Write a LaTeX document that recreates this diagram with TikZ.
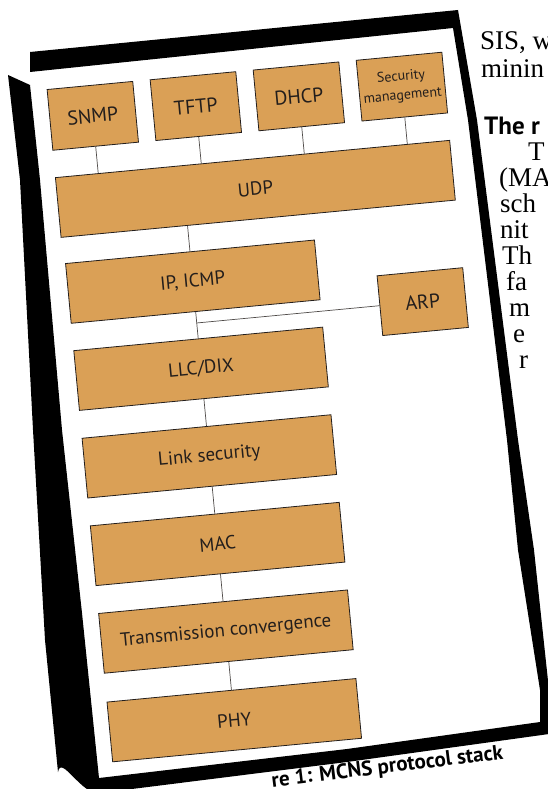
\documentclass[tikz,border=0pt]{standalone}
\usepackage{fontspec}
\setmainfont{Liberation Serif}
\newfontfamily\boxfont{PT Sans}
\usetikzlibrary{calc}
\definecolor{boxtan}{RGB}{218,160,86}
\definecolor{inkdark}{RGB}{35,30,28}
\begin{document}
\begin{tikzpicture}[x=1pt,y=-1pt]
\useasboundingbox (0,0) rectangle (547,789);
\fill[white] (0,0) rectangle (547,789);
% black frame of the tilted sheet
\fill[black] (30,52) -- (458,10) -- (477,120) -- (518,440) -- (534,550) -- (549,690) -- (549,734)
  -- (347,762) -- (100,793) to[out=190,in=80] (58,772) -- (45,640) -- (33,430) -- (20,180) -- (8,75)
  -- (30,85) -- (40,180) -- (62,430) -- (82,613) -- (99,778)
  -- (347,749) -- (540,722) -- (540,690) -- (518,550) -- (507,440) -- (468,120) -- (453,28)
  -- (30,72) -- cycle;
% diagram, rotated with the sheet
\begin{scope}[shift={(200,400)}, rotate=5.4, every node/.append style={transform shape},
  layer/.style={draw=inkdark, line width=0.8pt, fill=boxtan, inner sep=0pt,
    minimum width=250pt, minimum height=60pt, text=inkdark,
    font=\boxfont\fontsize{19}{21}\selectfont},
  topbox/.style={layer, minimum width=86pt, minimum height=61pt,
    font=\boxfont\fontsize{20}{22}\selectfont},
  conn/.style={draw=inkdark!80, line width=0.7pt}]
\node[topbox] (snmp) at (-80,-293) {SNMP};
\node[topbox] (tftp) at (23.5,-293) {TFTP};
\node[topbox] (dhcp) at (127,-293) {DHCP};
\node[topbox, align=center, font=\boxfont\fontsize{14}{19}\selectfont] (sec) at (230.5,-293) {Security\\management};
\node[layer, minimum width=396pt] (udp) at (75,-205) {UDP};
\node[layer] (ip) at (4,-118.5) {IP, ICMP};
\node[topbox, minimum height=60pt] (arp) at (231,-77) {ARP};
\node[layer] (llc) at (4,-31) {LLC/DIX};
\node[layer] (ls) at (4,57) {Link security};
\node[layer] (mac) at (4,145) {MAC};
\node[layer] (tc) at (4,233) {Transmission convergence};
\node[layer] (phy) at (4,322) {PHY};
\draw[conn] (snmp.south) -- ($(udp.north west)!(snmp.south)!(udp.north east)$);
\draw[conn] (tftp.south) -- ($(udp.north west)!(tftp.south)!(udp.north east)$);
\draw[conn] (dhcp.south) -- ($(udp.north west)!(dhcp.south)!(udp.north east)$);
\draw[conn] (sec.south) -- ($(udp.north west)!(sec.south)!(udp.north east)$);
\draw[conn] (ip.north) -- ($(udp.south west)!(ip.north)!(udp.south east)$);
\draw[conn] (ip.south) -- (llc.north);
\coordinate (jn) at ($(ip.south)!(arp.west)!(llc.north)$);
\draw[conn] (arp.west) -- (jn);
\draw[conn] (llc.south) -- (ls.north);
\draw[conn] (ls.south) -- (mac.north);
\draw[conn] (mac.south) -- (tc.north);
\draw[conn] (tc.south) -- (phy.north);
\end{scope}
% caption
\node[rotate=7, font=\boxfont\bfseries\fontsize{21}{23}\selectfont, anchor=base] (cap) at (388,773) {re 1: MCNS protocol stack};
% text of the page column at the right
\begin{scope}[every node/.style={anchor=base west, inner sep=0pt, font=\fontsize{27}{29}\selectfont}]
\node (t1) at (480,50) {SIS, w};
\node (t2) at (481,78) {minin};
\node[font=\boxfont\bfseries\fontsize{25}{27}\selectfont] (t3) at (484,134) {The r};
\node (t4) at (528,160) {T};
\node (t5) at (499,186) {(MA};
\node (t6) at (500,212) {sch};
\node (t7) at (500,238) {nit};
\node (t8) at (502,264) {Th};
\node (t9) at (506,290) {fa};
\node (t10) at (509,316) {m};
\node (t11) at (513,342) {e};
\node (t12) at (519,368) {r};
\end{scope}
\end{tikzpicture}
\end{document}
